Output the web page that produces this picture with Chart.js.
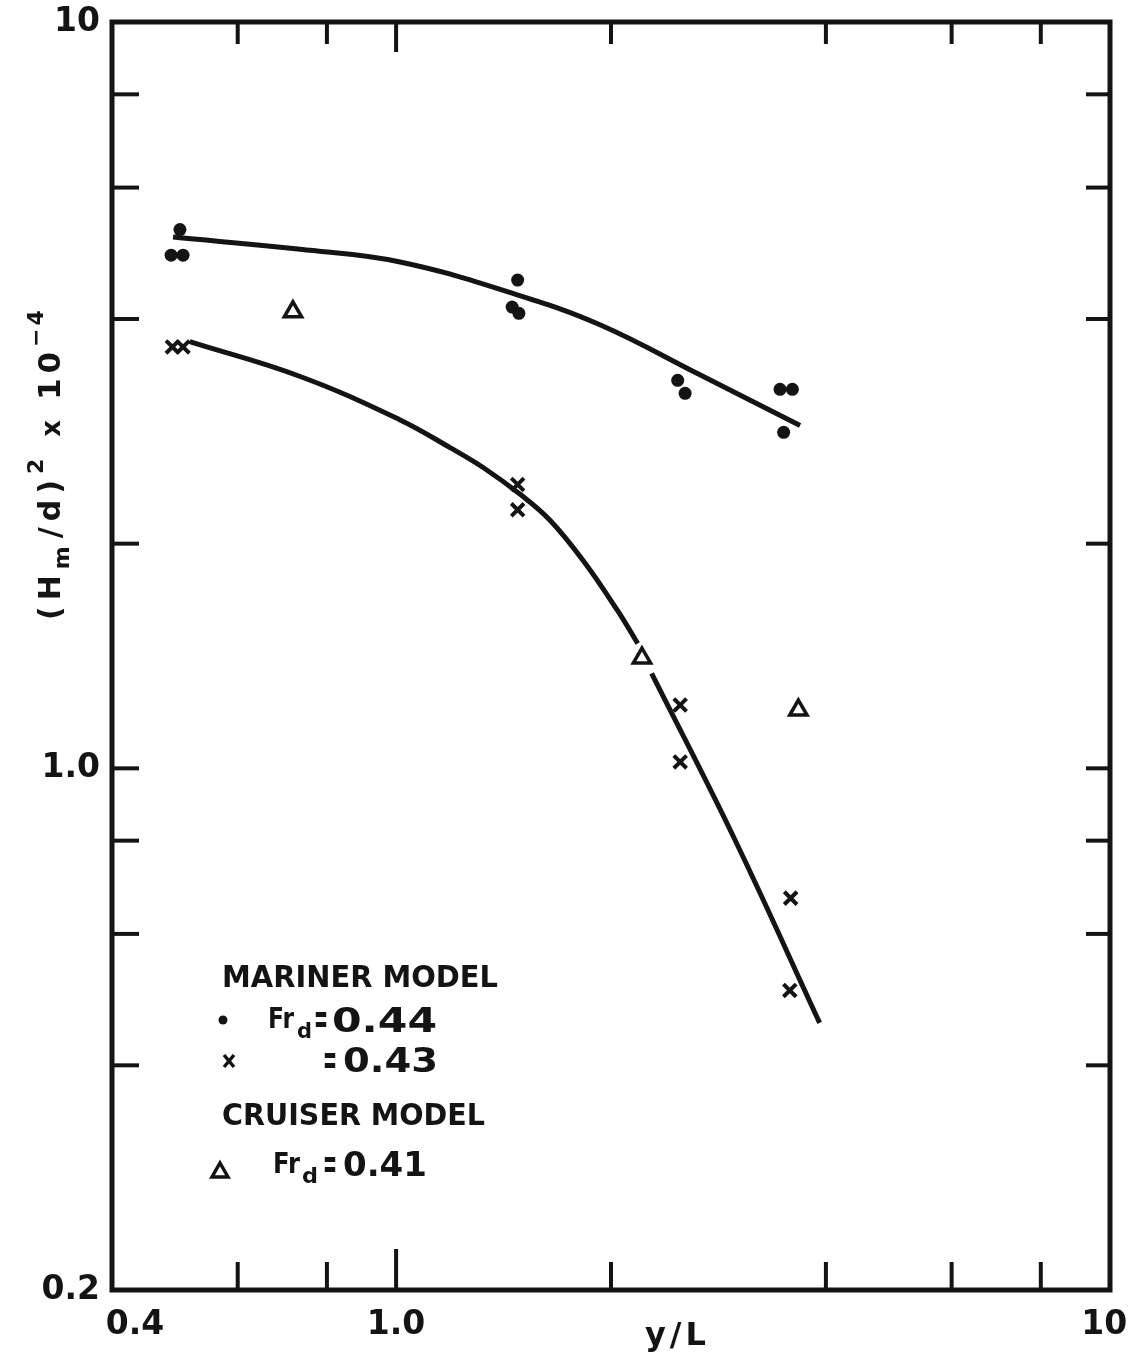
<!DOCTYPE html>
<html>
<head>
<meta charset="utf-8">
<script src="https://cdn.jsdelivr.net/npm/chart.js@4/dist/chart.umd.min.js"></script>
<style>
  html, body { margin: 0; background: #fff; }
  canvas { display: block; }
</style>
</head>
<body>
<canvas id="chart" width="1131" height="1358"></canvas>
<script>
// y/L on x, (Hm/d)^2 x 10^-4 on y, both log
const xTicks = [0.4, 0.6, 0.8, 1, 2, 4, 6, 8, 10];
const yTicks = [0.2, 0.4, 0.6, 0.8, 1, 2, 4, 6, 8, 10];
const xTickLabels = { 0.4: '0.4', 1: '1.0', 10: '10' };
const yTickLabels = { 0.2: '0.2', 1: '1.0', 10: '10' };

// Mariner model, Fr_d = 0.44
const dotX = [0.498, 0.484, 0.503, 1.48, 1.454, 1.486, 2.48, 2.54, 3.45, 3.59, 3.49];
const dotY = [5.27, 4.87, 4.87, 4.51, 4.15, 4.07, 3.31, 3.18, 3.22, 3.22, 2.82];
// Mariner model, Fr_d = 0.43
const crossX = [0.486, 0.503, 1.48, 1.48, 2.50, 2.50, 3.57, 3.56];
const crossY = [3.67, 3.67, 2.40, 2.22, 1.216, 1.02, 0.670, 0.504];
// Cruiser model, Fr_d = 0.41
const triX = [0.717, 2.21, 3.66];
const triY = [4.09, 1.405, 1.197];

// faired curves (null = pen lifted around the triangle)
const upperX = [0.487, 0.734, 1.013, 1.477, 1.93, 2.66, 3.68];
const upperY = [5.15, 4.96, 4.77, 4.31, 3.93, 3.37, 2.88];
const lowerX = [0.514, 0.734, 1.013, 1.19, 1.324, 1.50, 1.643, 1.827, 2.04, 2.18, 2.22, 2.28, 2.97, 3.92];
const lowerY = [3.73, 3.35, 2.93, 2.69, 2.53, 2.32, 2.15, 1.90, 1.63, 1.47, null, 1.34, 0.809, 0.456];

const INK = '#141414';
const FONT = '"DejaVu Sans", sans-serif';

const pts = (xs, ys) => xs.map((x, i) => ({ x, y: ys[i] }));

// text stretched or squeezed to span [x, x + width]
function fitted(ctx, str, x, y, size, width) {
  ctx.font = `bold ${size}px ${FONT}`;
  const w = ctx.measureText(str).width;
  ctx.save();
  ctx.translate(x, y);
  ctx.scale(width ? width / w : 1, 1);
  ctx.fillText(str, 0, 0);
  ctx.restore();
  return x + (width || w);
}

// letter-spaced text, returns the pen position after it
function spaced(ctx, str, x, y, size, track) {
  ctx.font = `bold ${size}px ${FONT}`;
  [...str].forEach(c => {
    ctx.fillText(c, x, y);
    x += ctx.measureText(c).width + track;
  });
  return x;
}

function line(ctx, x1, y1, x2, y2) {
  ctx.beginPath();
  ctx.moveTo(x1, y1);
  ctx.lineTo(x2, y2);
  ctx.stroke();
}

const frame = {
  id: 'frame',
  afterDatasetsDraw(chart) {
    const { ctx, chartArea: a, scales: { x, y } } = chart;
    ctx.save();
    ctx.strokeStyle = INK;
    ctx.lineWidth = 5;
    ctx.strokeRect(a.left, a.top, a.right - a.left, a.bottom - a.top);

    // inward tick marks on all four sides
    ctx.lineWidth = 4;
    xTicks.slice(1, -1).forEach(v => {
      const px = x.getPixelForValue(v);
      line(ctx, px, a.bottom, px, a.bottom - (v === 1 ? 41 : 28));
      line(ctx, px, a.top, px, a.top + (v === 1 ? 30 : 22));
    });
    yTicks.slice(1, -1).forEach(v => {
      const py = y.getPixelForValue(v);
      line(ctx, a.left, py, a.left + 27, py);
      line(ctx, a.right, py, a.right - 24, py);
    });

    ctx.fillStyle = INK;
    ctx.textBaseline = 'alphabetic';
    ctx.textAlign = 'left';

    // x title
    spaced(ctx, 'y/L', 645, 1345, 32, 4);

    // y title, reading upward
    ctx.save();
    ctx.translate(60, 620);
    ctx.rotate(-Math.PI / 2);
    let p = 0;
    p = spaced(ctx, '(H', p, 0, 30, 6);
    p = spaced(ctx, 'm', p, 9, 22, 6);
    p = spaced(ctx, '/d)', p + 2, 0, 30, 6);
    p = spaced(ctx, '2', p, -17, 22, 6);
    p = spaced(ctx, 'x', p + 16, 0, 26, 6);
    p = spaced(ctx, '10', p + 14, 0, 31, 5);
    spaced(ctx, '\u22124', p, -17, 22, 3);
    ctx.restore();

    // key
    fitted(ctx, 'MARINER MODEL', 222, 987, 30, 276);
    ctx.beginPath();
    ctx.arc(223, 1020, 4.5, 0, Math.PI * 2);
    ctx.fill();
    fitted(ctx, 'Fr', 268, 1028, 28, 26);
    fitted(ctx, 'd', 297, 1038, 22, 15);
    fitted(ctx, '=', 314, 1033, 42, 14);
    fitted(ctx, '0.44', 332, 1032, 33, 105);

    ctx.lineWidth = 3.5;
    line(ctx, 224, 1055, 234, 1067);
    line(ctx, 234, 1055, 224, 1067);
    fitted(ctx, '=', 323, 1074, 42, 14);
    fitted(ctx, '0.43', 343, 1072, 33, 95);

    fitted(ctx, 'CRUISER MODEL', 222, 1125, 30, 263);
    ctx.beginPath();
    ctx.moveTo(220, 1163);
    ctx.lineTo(228, 1177);
    ctx.lineTo(212, 1177);
    ctx.closePath();
    ctx.stroke();
    fitted(ctx, 'Fr', 273, 1173, 28, 27);
    fitted(ctx, 'd', 302, 1183, 22, 16);
    fitted(ctx, '=', 323, 1178, 42, 14);
    fitted(ctx, '0.41', 343, 1176, 33, 84);

    ctx.restore();
  }
};

const tickFont = { family: FONT, size: 33, weight: 'bold' };

// keep the plot box where it is: no extra room for edge labels
const noPad = s => { s.paddingLeft = s.paddingRight = s.paddingTop = s.paddingBottom = 0; };

new Chart(document.getElementById('chart'), {
  type: 'scatter',
  data: {
    datasets: [
      {
        label: 'Fr_d = 0.44',
        data: pts(dotX, dotY),
        pointStyle: 'circle',
        pointRadius: 6.5,
        backgroundColor: INK,
        borderColor: INK,
        borderWidth: 0,
        order: 1
      },
      {
        label: 'Fr_d = 0.43',
        data: pts(crossX, crossY),
        pointStyle: 'crossRot',
        pointRadius: 9,
        borderColor: INK,
        borderWidth: 4,
        order: 1
      },
      {
        label: 'Cruiser Fr_d = 0.41',
        data: pts(triX, triY),
        pointStyle: 'triangle',
        pointRadius: 10,
        backgroundColor: '#fff',
        borderColor: INK,
        borderWidth: 3.5,
        order: 1
      },
      {
        type: 'line',
        label: 'upper curve',
        data: pts(upperX, upperY),
        showLine: true,
        pointRadius: 0,
        borderColor: INK,
        borderWidth: 5,
        tension: 0.4,
        fill: false,
        order: 2
      },
      {
        type: 'line',
        label: 'lower curve',
        data: pts(lowerX, lowerY),
        showLine: true,
        spanGaps: false,
        pointRadius: 0,
        borderColor: INK,
        borderWidth: 5,
        tension: 0.4,
        fill: false,
        order: 2
      }
    ]
  },
  options: {
    responsive: false,
    animation: false,
    devicePixelRatio: 1,
    layout: { padding: { top: 22, right: 21, left: 0, bottom: 0 } },
    plugins: {
      legend: { display: false },
      tooltip: { enabled: false }
    },
    scales: {
      x: {
        type: 'logarithmic',
        min: 0.4,
        max: 10,
        grid: { display: false, drawTicks: false },
        border: { display: false },
        afterBuildTicks: s => { s.ticks = xTicks.map(v => ({ value: v })); },
        afterFit: s => { s.height = 68; noPad(s); },
        ticks: {
          autoSkip: false,
          maxRotation: 0,
          padding: 16,
          color: INK,
          font: tickFont,
          // end labels are nudged inward from the corners
          callback: (v, i, all) => {
            const lbl = xTickLabels[v] || '';
            if (i === 0) return '    ' + lbl;
            if (i === all.length - 1) return lbl + ' ';
            return lbl;
          }
        }
      },
      y: {
        type: 'logarithmic',
        min: 0.2,
        max: 10,
        grid: { display: false, drawTicks: false },
        border: { display: false },
        afterBuildTicks: s => { s.ticks = yTicks.map(v => ({ value: v })); },
        afterFit: s => { s.width = 112; noPad(s); },
        ticks: {
          autoSkip: false,
          padding: 12,
          color: INK,
          font: tickFont,
          callback: v => yTickLabels[v] || ''
        }
      }
    }
  },
  plugins: [frame]
});
</script>
</body>
</html>
